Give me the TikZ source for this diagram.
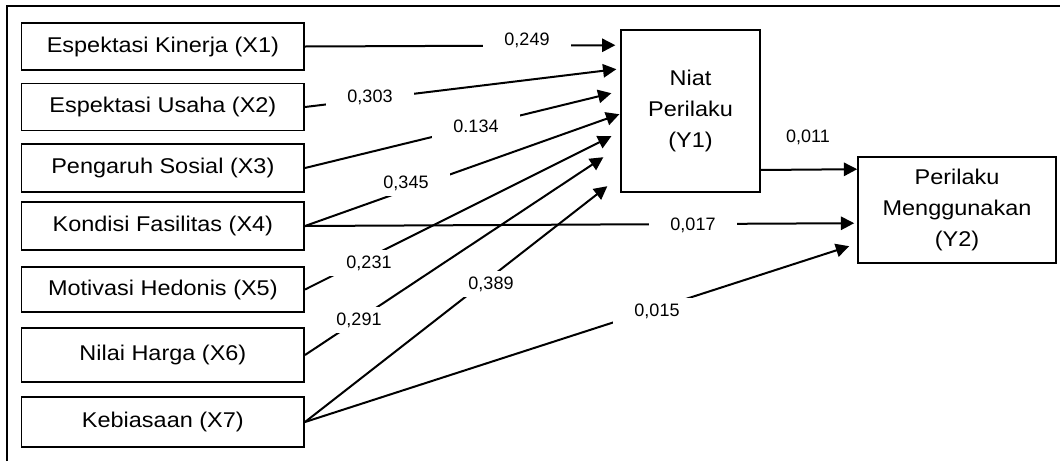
\documentclass[tikz,border=0pt]{standalone}
\usepackage{fontspec}
\setmainfont{Liberation Sans}
\newfontfamily\boxfont{Liberation Sans}[FakeStretch=1.1]
\usetikzlibrary{arrows.meta}

\begin{document}
\begin{tikzpicture}[x=0.75pt, y=-0.75pt,
        var/.style={draw, line width=1.2pt, anchor=east, minimum width=212pt, minimum height=35pt,
            font=\boxfont\fontsize{16}{23}\selectfont},
        dep/.style={draw, line width=1.2pt, align=center, font=\boxfont\fontsize{16}{23}\selectfont},
        coef/.style={fill=white, inner xsep=16pt, inner ysep=4pt, font=\fontsize{13.5}{16}\selectfont},
        path/.style={line width=1.5pt, -{Triangle[length=10pt,width=10pt]}}
    ]
    \useasboundingbox (0,0) rectangle (1060,461);
    \draw[line width=1.4pt] (7,461) -- (7,6) -- (1060,6);

    % exogenous variables
    \node[var] (x1) at (305,46.5) {Espektasi Kinerja (X1)};
    \node[var] (x2) at (305,107) {Espektasi Usaha (X2)};
    \node[var, minimum height=36pt] (x3) at (305,168) {Pengaruh Sosial (X3)};
    \node[var, minimum height=36pt] (x4) at (305,226) {Kondisi Fasilitas (X4)};
    \node[var, minimum height=34pt] (x5) at (305,289.5) {Motivasi Hedonis (X5)};
    \node[var, minimum height=40.5pt] (x6) at (305,355) {Nilai Harga (X6)};
    \node[var, minimum height=37.5pt] (x7) at (305,422) {Kebiasaan (X7)};

    % endogenous variables
    \node[dep, minimum width=104pt, minimum height=121.5pt] (y1) at (690.5,111) {Niat\\Perilaku\\(Y1)};
    \node[dep, minimum width=148.5pt, minimum height=79.5pt] (y2) at (957,210) {Perilaku\\Menggunakan\\(Y2)};

    % paths
    \draw[path] (x1.east) -- ([shift={(-5,16)}]y1.north west);
    \draw[path] (x2.east) -- ([shift={(-4,40)}]y1.north west);
    \draw[path] (x3.east) -- ([shift={(-9,64)}]y1.north west);
    \draw[path] (x4.east) -- ([shift={(-1,85)}]y1.north west);
    \draw[path] (x5.east) -- ([shift={(-9,107)}]y1.north west);
    \draw[path] (x6.east) -- ([shift={(-17,128)}]y1.north west);
    \draw[path] (x7.east) -- ([shift={(-13,157)}]y1.north west);
    \draw[path] ([shift={(0,59)}]y1.east) -- ([shift={(0,13)}]y2.north west);
    \draw[path] (x4.east) -- ([shift={(-3,67)}]y2.north west);
    \draw[path] (x7.east) -- ([shift={(-8,90)}]y2.north west);

    % coefficients
    \node[coef] (c1) at (527,40) {0,249};
    \node[coef] (c2) at (370,97) {0,303};
    \node[coef] (c3) at (476,126) {0.134};
    \node[coef] (c4) at (406,183) {0,345};
    \node[coef] (c5) at (369,263) {0,231};
    \node[coef] (c6) at (359,320) {0,291};
    \node[coef] (c7) at (491,284) {0,389};
    \node[coef] (c8) at (808,137) {0,011};
    \node[coef] (c9) at (693,225) {0,017};
    \node[coef] (c10) at (657,311) {0,015};
\end{tikzpicture}
\end{document}
